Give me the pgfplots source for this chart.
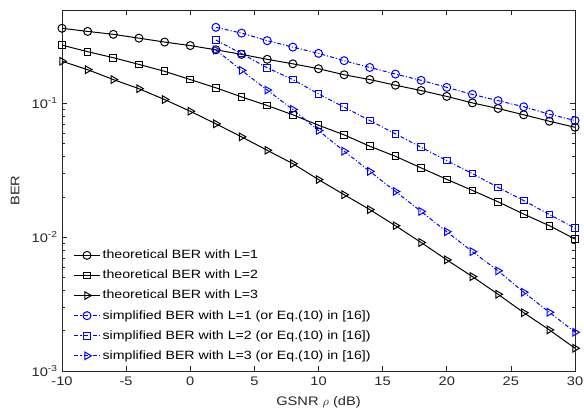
\documentclass[border=0pt]{standalone}
\usepackage{fontspec}
\setmainfont{Liberation Sans}[FakeStretch=1.18]
\usepackage{pgfplots}
\pgfplotsset{compat=1.18}
\definecolor{axgray}{RGB}{38,38,38}
\definecolor{simblue}{RGB}{0,0,255}

\begin{document}
\fontsize{9}{10.8}\selectfont
\begin{tikzpicture}
\begin{axis}[
  scale only axis, width=384.75pt, height=270.75pt,
  xmin=-10, xmax=30, ymin=1e-3, ymax=0.5, ymode=log,
  xtick={-10,-5,...,30},
  ytick={0.001,0.01,0.1},
  yticklabels={10\textsuperscript{-3},10\textsuperscript{-2},10\textsuperscript{-1}},
  /pgf/number format/assume math mode=true,
  tick align=inside, xtick pos=both, ytick pos=both,
  major tick length=3.75pt, minor tick length=2pt,
  axis line style={axgray, line width=0.45pt},
  every tick/.style={axgray, line width=0.45pt},
  ticklabel style={text=axgray, font=\fontsize{9.3}{11}\selectfont},
  xticklabel style={yshift=-1.5pt},
  label style={text=axgray, font=\fontsize{9.3}{11}\selectfont},
  xlabel={GSNR $\rho$ (dB)},
  xlabel style={yshift=-2pt},
  ylabel={BER},
  ylabel style={yshift=3pt},
  legend style={at={(0.015,0.012)}, anchor=south west, draw=none, fill=none,
    font=\fontsize{9}{10.8}\selectfont, row sep=3.2pt},
  legend cell align=left,
  legend image code/.code={\draw[mark repeat=2,mark phase=2] plot coordinates {(0cm,0cm) (0.33cm,0cm) (0.66cm,0cm)};},
]
\addplot[black, line width=0.75pt, mark=o, mark size=3pt] coordinates {
(-10,0.365) (-8,0.346) (-6,0.329) (-4,0.308) (-2,0.288) (0,0.271) (2,0.252)
(4,0.233) (6,0.214) (8,0.198) (10,0.182) (12,0.164) (14,0.151) (16,0.137)
(18,0.125) (20,0.113) (22,0.101) (24,0.0918) (26,0.0823) (28,0.0737) (30,0.0664)};
\addlegendentry{theoretical BER with L=1}
\addplot[black, line width=0.75pt, mark=square, mark size=2.5pt] coordinates {
(-10,0.273) (-8,0.244) (-6,0.220) (-4,0.196) (-2,0.174) (0,0.151) (2,0.131)
(4,0.112) (6,0.0966) (8,0.0823) (10,0.0688) (12,0.0583) (14,0.0479) (16,0.0403)
(18,0.0330) (20,0.0271) (22,0.0224) (24,0.0184) (26,0.0149) (28,0.0122) (30,0.0097)};
\addlegendentry{theoretical BER with L=2}
\addplot[black, line width=0.75pt, mark=triangle, mark size=3.3pt, mark options={rotate=-90}] coordinates {
(-10,0.207) (-8,0.179) (-6,0.151) (-4,0.129) (-2,0.107) (0,0.0875) (2,0.0705)
(4,0.0563) (6,0.0447) (8,0.0355) (10,0.0270) (12,0.0208) (14,0.0161) (16,0.0122)
(18,0.00914) (20,0.00678) (22,0.00508) (24,0.00375) (26,0.00273) (28,0.00203) (30,0.00148)};
\addlegendentry{theoretical BER with L=3}
\addplot[simblue, line width=0.75pt, dash pattern=on 3pt off 1.5pt on 0.8pt off 1.5pt,
  mark=o, mark size=3pt, mark options={solid}] coordinates {
(2,0.371) (4,0.336) (6,0.295) (8,0.264) (10,0.237) (12,0.209) (14,0.186) (16,0.166)
(18,0.149) (20,0.132) (22,0.117) (24,0.105) (26,0.0945) (28,0.0832) (30,0.0746)};
\addlegendentry{simplified BER with L=1 (or Eq.(10) in [16])}
\addplot[simblue, line width=0.75pt, dash pattern=on 3pt off 1.5pt on 0.8pt off 1.5pt,
  mark=square, mark size=2.5pt, mark options={solid}] coordinates {
(2,0.298) (4,0.236) (6,0.185) (8,0.151) (10,0.118) (12,0.0938) (14,0.0746) (16,0.0593)
(18,0.0471) (20,0.0374) (22,0.0299) (24,0.0236) (26,0.0188) (28,0.0148) (30,0.0117)};
\addlegendentry{simplified BER with L=2 (or Eq.(10) in [16])}
\addplot[simblue, line width=0.75pt, dash pattern=on 3pt off 1.5pt on 0.8pt off 1.5pt,
  mark=triangle, mark size=3.3pt, mark options={solid, rotate=-90}] coordinates {
(2,0.251) (4,0.177) (6,0.126) (8,0.0902) (10,0.0628) (12,0.0440) (14,0.0311) (16,0.0220)
(18,0.0156) (20,0.0110) (22,0.00781) (24,0.00561) (26,0.00388) (28,0.00275) (30,0.00195)};
\addlegendentry{simplified BER with L=3 (or Eq.(10) in [16])}
\end{axis}
\pgfresetboundingbox
\path (current axis.south west) ++(-46.5pt,-30.75pt) coordinate (bbA);
\path (current axis.north east) ++(6.75pt,7.5pt) coordinate (bbB);
\useasboundingbox (bbA) rectangle (bbB);
\end{tikzpicture}
\end{document}
